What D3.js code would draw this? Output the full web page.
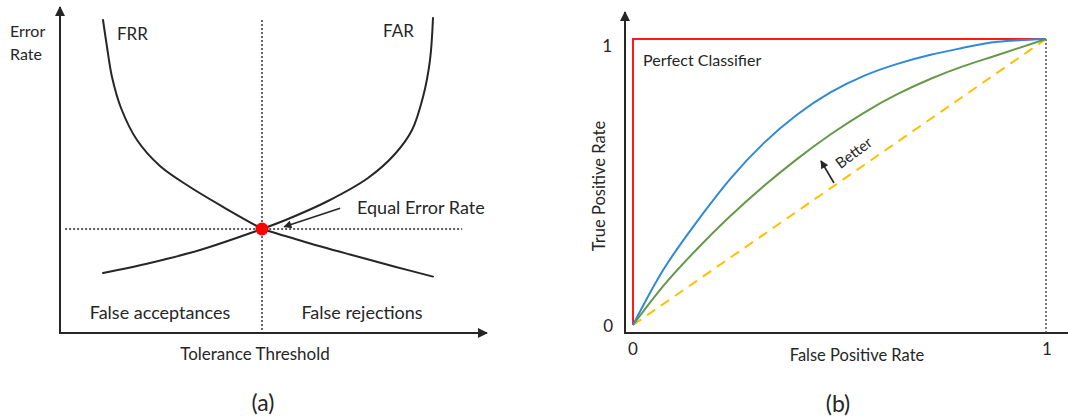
<!DOCTYPE html>
<html>
<head>
<meta charset="utf-8">
<script src="https://cdn.jsdelivr.net/npm/d3@7"></script>
<style>
  html, body { margin: 0; padding: 0; background: #fff; }
  svg text { font-family: Lato, "Open Sans", sans-serif; fill: #262626; }
</style>
</head>
<body>
<svg id="chart" width="1068" height="418"></svg>
<script>
// ---- Panel (a): error rates against tolerance threshold ----
// threshold (0..10) and error rate (0..10), arbitrary units.
// Each curve is split at the equal error rate, where the branches meet.
const eerThreshold = 4.731;
const eerRate = 3.190;

const frrUpperThreshold = [1.007, 1.101, 1.218, 1.429, 1.803, 2.342, 3.044, 3.864, eerThreshold];
const frrUpperRate      = [9.601, 8.773, 7.853, 6.902, 5.920, 5.123, 4.479, 3.834, eerRate];
const frrLowerThreshold = [eerThreshold, 5.738, 6.792, 7.845, 8.735];
const frrLowerRate      = [eerRate, 2.794, 2.408, 2.034, 1.730];

const farLowerThreshold = [1.007, 2.108, 3.279, eerThreshold];
const farLowerRate      = [1.840, 2.147, 2.546, eerRate];
const farUpperThreshold = [eerThreshold, 5.340, 6.276, 7.213, 7.845, 8.244, 8.501, 8.665, 8.735];
const farUpperRate      = [eerRate, 3.497, 4.049, 4.755, 5.491, 6.227, 7.239, 8.374, 9.663];

const regionLabels = ["False acceptances", "False rejections"];

// ---- Panel (b): ROC curves ----
const rocFpr      = [0, 0.073, 0.154, 0.235, 0.316, 0.397, 0.478, 0.559, 0.640, 0.721, 0.802, 0.883, 1];
const rocTprBlue  = [0, 0.192, 0.360, 0.510, 0.635, 0.735, 0.813, 0.871, 0.913, 0.945, 0.970, 0.990, 1];
const rocTprGreen = [0, 0.136, 0.264, 0.380, 0.485, 0.580, 0.666, 0.742, 0.807, 0.861, 0.906, 0.944, 1];
const perfectFpr  = [0, 0, 1];
const perfectTpr  = [0, 1, 1];
const chanceFpr   = [0, 1];
const chanceTpr   = [0, 1];
const rocTickLabels = ["0", "1"];

const svg = d3.select("#chart");
const ink = "#262626";

// arrowhead markers
const defs = svg.append("defs");
function marker(id, w, h) {
  defs.append("marker")
    .attr("id", id)
    .attr("viewBox", "0 0 10 10")
    .attr("refX", 9).attr("refY", 5)
    .attr("markerWidth", w).attr("markerHeight", h)
    .attr("markerUnits", "userSpaceOnUse")
    .attr("orient", "auto")
    .append("path").attr("d", "M0,0 L10,5 L0,10 Z").attr("fill", ink);
}
marker("head", 10, 10);
marker("headSmall", 9, 8);

// ================= Panel (a) =================
const xA = d3.scaleLinear().domain([0, 10]).range([60, 487]);
const yA = d3.scaleLinear().domain([0, 10]).range([333, 7]);
const gA = svg.append("g");

gA.append("line")
  .attr("x1", xA(0)).attr("y1", yA(0)).attr("x2", xA(0)).attr("y2", yA(10))
  .attr("stroke", ink).attr("stroke-width", 2).attr("marker-end", "url(#head)");
gA.append("line")
  .attr("x1", xA(0) - 1).attr("y1", yA(0)).attr("x2", xA(10)).attr("y2", yA(0))
  .attr("stroke", ink).attr("stroke-width", 2).attr("marker-end", "url(#head)");

// dotted guides through the equal error rate
gA.append("line")
  .attr("x1", xA(eerThreshold)).attr("x2", xA(eerThreshold))
  .attr("y1", yA(9.6)).attr("y2", yA(0))
  .attr("stroke", ink).attr("stroke-width", 1.4).attr("stroke-dasharray", "2,2");
gA.append("line")
  .attr("x1", xA(0.12)).attr("x2", xA(9.42))
  .attr("y1", yA(eerRate)).attr("y2", yA(eerRate))
  .attr("stroke", ink).attr("stroke-width", 1.4).attr("stroke-dasharray", "2,2");

const lineA = d3.line()
  .x(d => xA(d[0])).y(d => yA(d[1]))
  .curve(d3.curveCatmullRom.alpha(0.5));

[
  [frrUpperThreshold, frrUpperRate],
  [frrLowerThreshold, frrLowerRate],
  [farLowerThreshold, farLowerRate],
  [farUpperThreshold, farUpperRate]
].forEach(([t, r]) => {
  gA.append("path")
    .datum(d3.zip(t, r))
    .attr("d", lineA).attr("fill", "none")
    .attr("stroke", ink).attr("stroke-width", 2).attr("stroke-linecap", "round");
});

// pointer to the equal error rate
gA.append("line")
  .attr("x1", xA(6.56)).attr("y1", yA(3.83))
  .attr("x2", xA(5.25)).attr("y2", yA(3.26))
  .attr("stroke", ink).attr("stroke-width", 1.6).attr("marker-end", "url(#headSmall)");

gA.append("circle")
  .attr("cx", xA(eerThreshold)).attr("cy", yA(eerRate)).attr("r", 6.5)
  .attr("fill", "#ff0000");

// labels
gA.append("text").attr("x", 10).attr("y", 37).attr("font-size", 16).text("Error");
gA.append("text").attr("x", 10).attr("y", 60).attr("font-size", 16).text("Rate");
gA.append("text").attr("x", 117).attr("y", 40).attr("font-size", 17).text("FRR");
gA.append("text").attr("x", 383).attr("y", 37).attr("font-size", 17).text("FAR");
gA.append("text").attr("x", 357).attr("y", 214).attr("font-size", 18).text("Equal Error Rate");
gA.append("text").attr("x", 160).attr("y", 319).attr("font-size", 18)
  .attr("text-anchor", "middle").text(regionLabels[0]);
gA.append("text").attr("x", 362).attr("y", 319).attr("font-size", 18)
  .attr("text-anchor", "middle").text(regionLabels[1]);
gA.append("text").attr("x", 255).attr("y", 360).attr("font-size", 17)
  .attr("text-anchor", "middle").text("Tolerance Threshold");
gA.append("text").attr("x", 263).attr("y", 411).attr("font-size", 23)
  .attr("text-anchor", "middle").text("(a)");

// ================= Panel (b) =================
const xB = d3.scaleLinear().domain([0, 1]).range([633, 1046]);
const yB = d3.scaleLinear().domain([0, 1]).range([325, 39]);
const gB = svg.append("g");

gB.append("line")
  .attr("x1", 625).attr("y1", 333).attr("x2", 625).attr("y2", 12)
  .attr("stroke", ink).attr("stroke-width", 2).attr("marker-end", "url(#head)");
gB.append("line")
  .attr("x1", 624).attr("y1", 333).attr("x2", 1068).attr("y2", 333)
  .attr("stroke", ink).attr("stroke-width", 2);

// dotted guide at FPR = 1
gB.append("line")
  .attr("x1", xB(1)).attr("x2", xB(1)).attr("y1", yB(1)).attr("y2", 333)
  .attr("stroke", "#444").attr("stroke-width", 1.4).attr("stroke-dasharray", "2,2");

const lineB = d3.line().x(d => xB(d[0])).y(d => yB(d[1]));

// chance diagonal
gB.append("path")
  .datum(d3.zip(chanceFpr, chanceTpr))
  .attr("d", lineB).attr("fill", "none")
  .attr("stroke", "#ffc000").attr("stroke-width", 2).attr("stroke-dasharray", "10,7");

// perfect classifier
gB.append("path")
  .datum(d3.zip(perfectFpr, perfectTpr))
  .attr("d", lineB).attr("fill", "none")
  .attr("stroke", "#ff1a1a").attr("stroke-width", 2);

// smooth ROC curves through the read points
const smoothB = d3.line()
  .x(d => xB(d[0])).y(d => yB(d[1]))
  .curve(d3.curveNatural);

gB.append("path")
  .datum(d3.zip(rocFpr, rocTprGreen))
  .attr("d", smoothB).attr("fill", "none")
  .attr("stroke", "#65994a").attr("stroke-width", 2);
gB.append("path")
  .datum(d3.zip(rocFpr, rocTprBlue))
  .attr("d", smoothB).attr("fill", "none")
  .attr("stroke", "#2f8ad6").attr("stroke-width", 2);

// "Better" arrow and label
gB.append("line")
  .attr("x1", 834).attr("y1", 183).attr("x2", 821).attr("y2", 161)
  .attr("stroke", ink).attr("stroke-width", 1.6).attr("marker-end", "url(#headSmall)");
gB.append("text")
  .attr("transform", "translate(857,157) rotate(-37)")
  .attr("text-anchor", "middle").attr("font-size", 15).text("Better");

// tick labels
gB.append("text").attr("x", 612).attr("y", 52).attr("font-size", 17)
  .attr("text-anchor", "end").text(rocTickLabels[1]);
gB.append("text").attr("x", 613).attr("y", 332).attr("font-size", 17)
  .attr("text-anchor", "end").text(rocTickLabels[0]);
gB.append("text").attr("x", xB(0)).attr("y", 355).attr("font-size", 17)
  .attr("text-anchor", "middle").text(rocTickLabels[0]);
gB.append("text").attr("x", xB(1) + 1).attr("y", 355).attr("font-size", 17)
  .attr("text-anchor", "middle").text(rocTickLabels[1]);

gB.append("text").attr("x", 643).attr("y", 66).attr("font-size", 16).text("Perfect Classifier");
gB.append("text").attr("x", 857).attr("y", 361).attr("font-size", 16.5)
  .attr("text-anchor", "middle").text("False Positive Rate");
gB.append("text")
  .attr("transform", "translate(605,186) rotate(-90)")
  .attr("text-anchor", "middle").attr("font-size", 16.5).text("True Positive Rate");
gB.append("text").attr("x", 838).attr("y", 412).attr("font-size", 23)
  .attr("text-anchor", "middle").text("(b)");
</script>
</body>
</html>
